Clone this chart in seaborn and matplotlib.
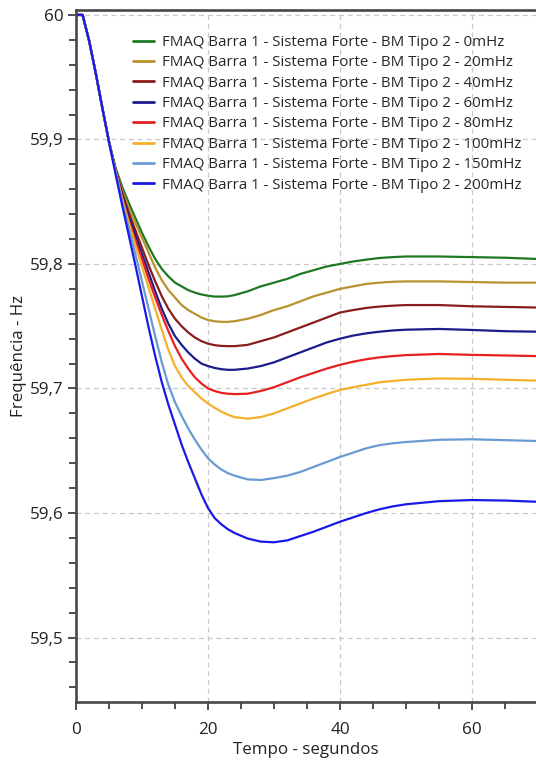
import numpy as np
import pandas as pd
import matplotlib
matplotlib.use("Agg")
import matplotlib.pyplot as plt
from matplotlib.ticker import FixedLocator, MultipleLocator, FuncFormatter
import seaborn as sns

# Time axis (seconds)
tempo = list(range(0, 25)) + list(range(26, 51, 2)) + [55, 60, 65, 70]

# Common initial drop, identical for every case (t = 0..5 s)
inicio = [60.000, 60.000, 59.979, 59.953, 59.925, 59.898]

f_0mhz = inicio + [
    59.877, 59.862, 59.849, 59.837, 59.825, 59.814, 59.804, 59.796, 59.790, 59.785,
    59.782, 59.779, 59.777, 59.7755, 59.7745, 59.7738, 59.7738, 59.774, 59.775,
    59.778, 59.782, 59.785, 59.788, 59.792, 59.795, 59.798, 59.800, 59.802, 59.8035,
    59.8048, 59.8055, 59.806,
    59.806, 59.8055, 59.805, 59.804]
f_20mhz = inicio + [
    59.876, 59.859, 59.845, 59.833, 59.821, 59.809, 59.797, 59.787, 59.779, 59.773,
    59.767, 59.763, 59.760, 59.757, 59.755, 59.754, 59.7535, 59.7535, 59.754,
    59.756, 59.759, 59.763, 59.766, 59.770, 59.774, 59.777, 59.780, 59.782, 59.784,
    59.785, 59.7857, 59.786,
    59.786, 59.7855, 59.785, 59.785]
f_40mhz = inicio + [
    59.876, 59.857, 59.841, 59.827, 59.813, 59.799, 59.786, 59.774, 59.764, 59.756,
    59.750, 59.745, 59.741, 59.738, 59.736, 59.7348, 59.7342, 59.734, 59.734,
    59.735, 59.738, 59.741, 59.745, 59.749, 59.753, 59.757, 59.761, 59.763, 59.7647,
    59.7658, 59.7665, 59.767,
    59.767, 59.766, 59.7655, 59.765]
f_60mhz = inicio + [
    59.875, 59.855, 59.838, 59.823, 59.808, 59.793, 59.778, 59.764, 59.752, 59.742,
    59.735, 59.729, 59.724, 59.720, 59.718, 59.7165, 59.7155, 59.715, 59.715,
    59.716, 59.718, 59.721, 59.725, 59.729, 59.733, 59.737, 59.740, 59.7425, 59.7443,
    59.7456, 59.7466, 59.7472,
    59.7478, 59.747, 59.746, 59.7456]
f_80mhz = inicio + [
    59.875, 59.853, 59.835, 59.819, 59.804, 59.788, 59.773, 59.759, 59.746, 59.734,
    59.724, 59.716, 59.709, 59.704, 59.700, 59.698, 59.6965, 59.6958, 59.6955,
    59.6958, 59.698, 59.701, 59.705, 59.709, 59.7125, 59.716, 59.719, 59.7215, 59.7235,
    59.725, 59.726, 59.7268,
    59.7277, 59.727, 59.7265, 59.726]
f_100mhz = inicio + [
    59.874, 59.852, 59.833, 59.815, 59.798, 59.781, 59.764, 59.747, 59.731, 59.718,
    59.709, 59.702, 59.697, 59.692, 59.688, 59.6845, 59.6815, 59.679, 59.677,
    59.6758, 59.677, 59.680, 59.684, 59.688, 59.692, 59.6955, 59.6988, 59.701, 59.703,
    59.705, 59.706, 59.707,
    59.708, 59.7078, 59.707, 59.7063]
f_150mhz = inicio + [
    59.874, 59.850, 59.829, 59.808, 59.786, 59.764, 59.742, 59.721, 59.703, 59.689,
    59.678, 59.668, 59.659, 59.651, 59.644, 59.639, 59.635, 59.632, 59.630,
    59.627, 59.6265, 59.628, 59.630, 59.633, 59.637, 59.641, 59.645, 59.6485, 59.652,
    59.6545, 59.656, 59.657,
    59.6588, 59.6592, 59.6585, 59.6578]
f_200mhz = inicio + [
    59.872, 59.847, 59.823, 59.799, 59.774, 59.749, 59.726, 59.705, 59.687, 59.671,
    59.655, 59.641, 59.628, 59.615, 59.604, 59.596, 59.591, 59.587, 59.584,
    59.5795, 59.577, 59.5765, 59.578, 59.5815, 59.585, 59.589, 59.593, 59.5965, 59.600,
    59.603, 59.6053, 59.607,
    59.6095, 59.6104, 59.610, 59.609]

prefixo = "FMAQ Barra 1 - Sistema Forte - BM Tipo 2 - "
degraus = ["0mHz", "20mHz", "40mHz", "60mHz", "80mHz", "100mHz", "150mHz", "200mHz"]
series = [f_0mhz, f_20mhz, f_40mhz, f_60mhz, f_80mhz, f_100mhz, f_150mhz, f_200mhz]
cores = ["#1e7a22", "#b8922c", "#8a1c1c", "#1c1c8a", "#e82020", "#f4b02a", "#6a9ad2", "#1a1ae8"]

rotulos = [prefixo + d for d in degraus]
df = pd.concat(
    [pd.DataFrame({"Tempo": tempo, "Frequencia": vals, "Curva": nome})
     for nome, vals in zip(rotulos, series)],
    ignore_index=True,
)

sns.set_style("white")
plt.rcParams["font.family"] = ["Open Sans", "DejaVu Sans"]

fig = plt.figure(figsize=(5.36, 7.65), dpi=100)
ax = fig.add_axes([0.1418, 0.082, 0.8582, 0.905])

sns.lineplot(data=df, x="Tempo", y="Frequencia", hue="Curva", hue_order=rotulos,
             palette=dict(zip(rotulos, cores)), linewidth=1.6, ax=ax, legend=True)

ax.set_xlim(0, 69.7)
ax.set_ylim(59.448, 60.004)

ax.xaxis.set_major_locator(FixedLocator([0, 20, 40, 60]))
ax.xaxis.set_minor_locator(MultipleLocator(5))
ax.yaxis.set_major_locator(FixedLocator([59.5, 59.6, 59.7, 59.8, 59.9, 60.0]))
ax.yaxis.set_minor_locator(MultipleLocator(0.02))


def fmt(v, pos):
    s = f"{v:.1f}"
    if s.endswith(".0"):
        s = s[:-2]
    return s.replace(".", ",")


ax.yaxis.set_major_formatter(FuncFormatter(fmt))
ax.xaxis.set_major_formatter(FuncFormatter(lambda v, p: f"{v:.0f}"))

ax.tick_params(axis="both", which="both", direction="out", color="#404040",
               labelcolor="#222222", labelsize=12.3, bottom=True, left=True,
               top=False, right=False)
ax.tick_params(axis="both", which="major", length=6, width=1.3, pad=3)
ax.tick_params(axis="both", which="minor", length=5, width=1.3)
ax.tick_params(axis="x", which="major", pad=8)

for side in ["left", "bottom", "top"]:
    ax.spines[side].set_color("#484848")
    ax.spines[side].set_linewidth(1.9)
ax.spines["right"].set_visible(False)

ax.grid(True, which="major", linestyle=(0, (4, 3)), color="#c8c8c8", linewidth=0.9)
ax.set_axisbelow(True)

ax.set_xlabel("Tempo - segundos", fontsize=12.2, color="#222222", labelpad=3)
ax.set_ylabel("Frequência - Hz", fontsize=12.2, color="#222222", labelpad=2)

leg = ax.legend(loc="upper left", bbox_to_anchor=(0.124, 0.964), frameon=False,
                fontsize=10.8, handlelength=1.4, handletextpad=0.5, labelspacing=0.36,
                borderaxespad=0, borderpad=0)
for line in leg.get_lines():
    line.set_linewidth(2.0)

fig.savefig("out.png", dpi=100)
